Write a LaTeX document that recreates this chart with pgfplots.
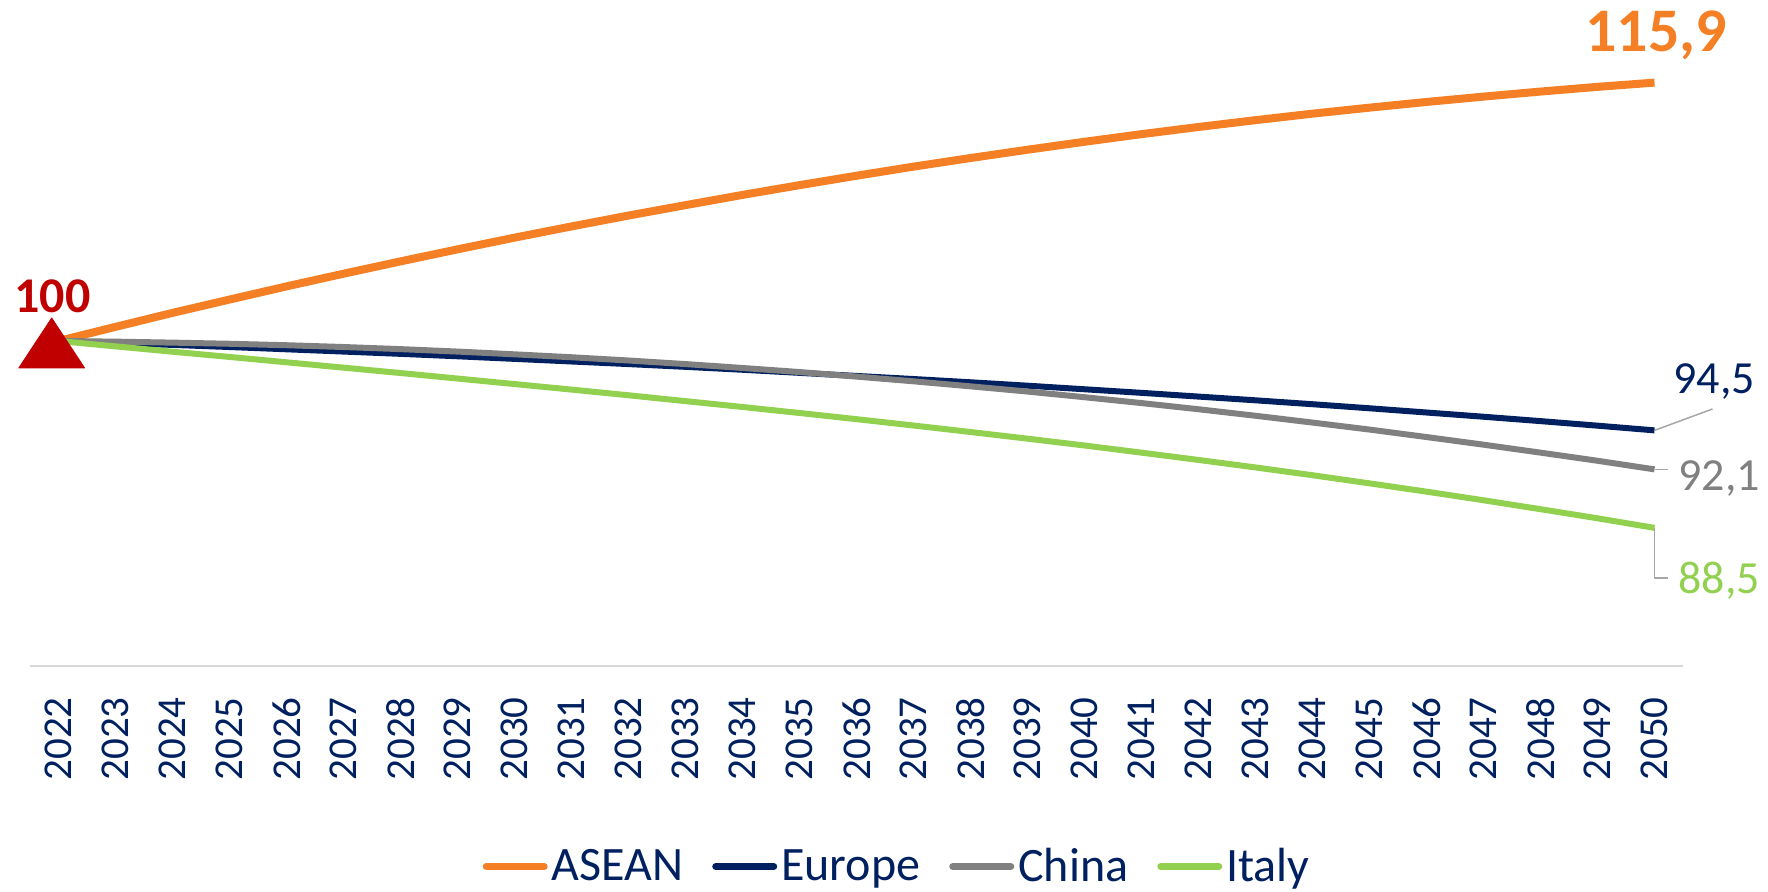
\documentclass[border=0pt]{standalone}
\usepackage{fontspec}
\setmainfont{Carlito}
\usepackage{pgfplots}
\pgfplotsset{compat=1.18}

\definecolor{aseanorange}{HTML}{F47F24}
\definecolor{euronavy}{HTML}{002060}
\definecolor{chinagray}{HTML}{808080}
\definecolor{italygreen}{HTML}{92D050}
\definecolor{basered}{HTML}{C00000}
\definecolor{axisgray}{HTML}{D9D9D9}
\definecolor{leadergray}{HTML}{A6A6A6}

% Index 100 = 2022; x is the year offset from 2022
\pgfplotstableread{
t  v
0  100.00
1  100.87
2  101.73
3  102.55
4  103.36
5  104.14
6  104.90
7  105.64
8  106.36
9  107.05
10 107.72
11 108.36
12 108.99
13 109.59
14 110.17
15 110.73
16 111.26
17 111.77
18 112.26
19 112.73
20 113.17
21 113.59
22 113.99
23 114.36
24 114.71
25 115.04
26 115.35
27 115.64
28 115.90
}\asean

\pgfplotstableread{
t  v
0  100.00
1  99.88
2  99.76
3  99.63
4  99.49
5  99.35
6  99.21
7  99.06
8  98.90
9  98.74
10 98.58
11 98.41
12 98.23
13 98.04
14 97.85
15 97.66
16 97.46
17 97.25
18 97.03
19 96.81
20 96.58
21 96.35
22 96.11
23 95.86
24 95.60
25 95.34
26 95.07
27 94.79
28 94.50
}\europe

\pgfplotstableread{
t  v
0  100.00
1  99.96
2  99.90
3  99.83
4  99.74
5  99.63
6  99.50
7  99.35
8  99.18
9  99.00
10 98.80
11 98.58
12 98.34
13 98.09
14 97.81
15 97.52
16 97.21
17 96.89
18 96.54
19 96.18
20 95.80
21 95.40
22 94.98
23 94.55
24 94.09
25 93.62
26 93.13
27 92.63
28 92.10
}\china

\pgfplotstableread{
t  v
0  100.00
1  99.67
2  99.34
3  99.02
4  98.69
5  98.36
6  98.03
7  97.69
8  97.35
9  97.01
10 96.66
11 96.30
12 95.94
13 95.57
14 95.19
15 94.80
16 94.40
17 93.99
18 93.57
19 93.13
20 92.68
21 92.22
22 91.74
23 91.24
24 90.73
25 90.20
26 89.65
27 89.09
28 88.50
}\italy

\begin{document}
\begin{tikzpicture}
\useasboundingbox (0pt,0pt) rectangle (884pt,445.5pt);
\begin{axis}[
  at={(15pt,112.5pt)}, anchor=south west,
  width=826.5pt, height=325pt, scale only axis,
  xmin=-0.5, xmax=28.5, ymin=80, ymax=120,
  axis x line=bottom, axis y line=none,
  x axis line style={draw=axisgray, line width=1pt, -},
  xtick={0,...,28},
  xticklabels={2022,2023,2024,2025,2026,2027,2028,2029,2030,2031,2032,2033,2034,2035,2036,2037,2038,2039,2040,2041,2042,2043,2044,2045,2046,2047,2048,2049,2050},
  major tick length=0pt,
  xticklabel style={rotate=90, anchor=east, inner sep=0pt,
    font=\fontsize{20.5}{20.5}\selectfont, text=euronavy},
  xticklabel shift=15.5pt,
  clip=false,
  legend columns=4,
  legend style={at={(0.524,-0.28)}, anchor=north, draw=none, fill=none,
    inner sep=0pt, font=\fontsize{24}{24}\selectfont, text=euronavy,
    nodes={inner sep=0pt},
    /tikz/every odd column/.append style={column sep=2pt},
    /tikz/every even column/.append style={column sep=14.5pt}},
  legend cell align=left,
  legend image code/.code={\draw[#1, line width=3.5pt, line cap=round] (0pt,0pt) -- (29pt,0pt);},
  line join=round,
]
\addplot[aseanorange, line width=4pt] table[x=t, y=v] {\asean};
\addlegendentry{ASEAN}
\addplot[euronavy, line width=3pt] table[x=t, y=v] {\europe};
\addlegendentry{Europe}
\addplot[chinagray, line width=3pt] table[x=t, y=v] {\china};
\addlegendentry{China}
\addplot[italygreen, line width=3pt] table[x=t, y=v] {\italy};
\addlegendentry{Italy}

% base-year marker
\addplot[basered, only marks, mark=triangle*, mark size=16.67pt, forget plot,
  mark options={xshift=-3.4pt, yshift=-5.15pt, xscale=1.14, fill=basered, draw=none}]
  coordinates {(0,100)};

% leader lines to the end-value labels
\draw[leadergray, line width=0.75pt] (axis cs:28,94.5) -- ++(29pt,10.7pt);
\draw[leadergray, line width=0.75pt] (axis cs:28,92.1) -- ++(6.75pt,0pt);
\draw[leadergray, line width=0.75pt] (axis cs:28,88.5) -- ++(0pt,-25pt) -- ++(6.75pt,0pt);
\end{axis}

% value labels
\node[anchor=base, inner sep=0pt, text=basered, font=\fontsize{25}{25}\selectfont\bfseries]
  at (26.25pt,289.5pt) {100};
\node[anchor=base, inner sep=0pt, text=aseanorange, font=\fontsize{31}{31}\selectfont\bfseries]
  at (828pt,419.5pt) {115,9};
\node[anchor=base west, inner sep=0pt, text=euronavy, font=\fontsize{23}{23}\selectfont]
  at (836.5pt,249pt) {94,5};
\node[anchor=base west, inner sep=0pt, text=chinagray, font=\fontsize{23}{23}\selectfont]
  at (839pt,200.5pt) {92,1};
\node[anchor=base west, inner sep=0pt, text=italygreen, font=\fontsize{23}{23}\selectfont]
  at (839pt,149pt) {88,5};
\end{tikzpicture}
\end{document}
